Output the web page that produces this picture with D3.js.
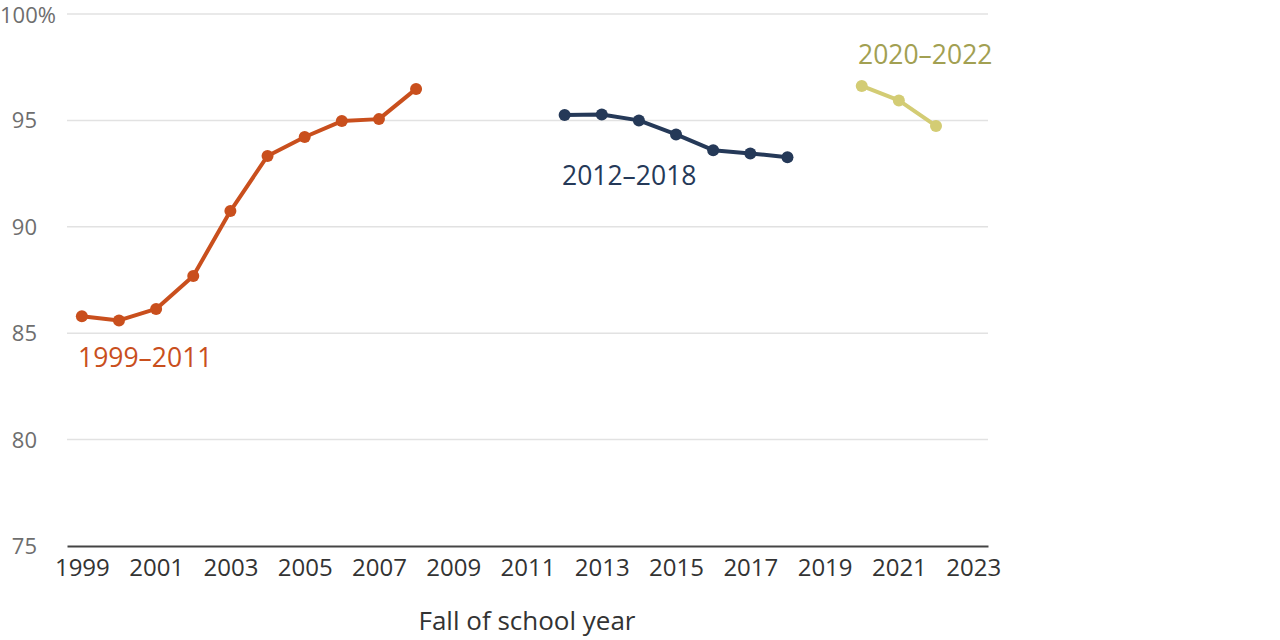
<!DOCTYPE html>
<html>
<head>
<meta charset="utf-8">
<script src="https://cdn.jsdelivr.net/npm/d3@7"></script>
<style>
  body { margin: 0; background: #fff; }
  text { font-family: "Open Sans", sans-serif; }
</style>
</head>
<body>
<svg id="chart" width="1280" height="640"></svg>
<script>
// data
const years1 = [1999, 2000, 2001, 2002, 2003, 2004, 2005, 2006, 2007, 2008];
const values1 = [85.8, 85.6, 86.14, 87.69, 90.74, 93.33, 94.22, 94.97, 95.06, 96.48];
const years2 = [2012, 2013, 2014, 2015, 2016, 2017, 2018];
const values2 = [95.25, 95.28, 95.0, 94.34, 93.6, 93.45, 93.27];
const years3 = [2020, 2021, 2022];
const values3 = [96.62, 95.94, 94.74];
const xTicks = [1999, 2001, 2003, 2005, 2007, 2009, 2011, 2013, 2015, 2017, 2019, 2021, 2023];
const yTicks = [75, 80, 85, 90, 95, 100];

const series = [
  { name: "1999–2011", years: years1, values: values1, color: "#c94f1d", labelColor: "#c94f1d", lx: 78, ly: 367 },
  { name: "2012–2018", years: years2, values: values2, color: "#253958", labelColor: "#253958", lx: 562, ly: 185 },
  { name: "2020–2022", years: years3, values: values3, color: "#d3cc74", labelColor: "#a2a052", lx: 858, ly: 64 }
];

const svg = d3.select("#chart");
const plotLeft = 67, plotRight = 988, plotTop = 14, plotBottom = 546;

const x = d3.scaleLinear().domain([1999 - 0.4, 2023 + 0.4]).range([plotLeft, plotRight]);
const y = d3.scaleLinear().domain([75, 100]).range([plotBottom, plotTop]);

// gridlines
svg.append("g")
  .selectAll("line")
  .data(yTicks.filter(d => d > 75))
  .join("line")
  .attr("x1", plotLeft).attr("x2", plotRight)
  .attr("y1", d => y(d)).attr("y2", d => y(d))
  .attr("stroke", "#e2e2e2").attr("stroke-width", 1.5);

// y labels
svg.append("g")
  .selectAll("text")
  .data(yTicks)
  .join("text")
  .attr("x", 37)
  .attr("y", d => y(d))
  .attr("dy", d => d === 100 ? "0.42em" : "0.36em")
  .attr("fill", "#6e6e6e")
  .attr("font-size", 22)
  .attr("text-anchor", d => d === 100 ? "start" : "end")
  .attr("dx", d => d === 100 ? -37 : 0)
  .text(d => d === 100 ? "100%" : d);

// x axis
const xAxis = d3.axisBottom(x).tickValues(xTicks).tickSize(0).tickPadding(13).tickFormat(d3.format("d"));
const gx = svg.append("g").attr("transform", `translate(0,${plotBottom})`).call(xAxis);
gx.select(".domain").attr("stroke", "#444").attr("stroke-width", 2);
gx.selectAll("text").attr("font-size", 24).attr("fill", "#333").attr("font-family", "Open Sans, sans-serif");

svg.append("text")
  .attr("x", 527)
  .attr("y", 630)
  .attr("text-anchor", "middle")
  .attr("font-size", 26)
  .attr("fill", "#333")
  .text("Fall of school year");

const line = d3.line().x(d => x(d[0])).y(d => y(d[1]));

series.forEach(s => {
  const pts = s.years.map((yr, i) => [yr, s.values[i]]);
  svg.append("path")
    .datum(pts)
    .attr("d", line)
    .attr("fill", "none")
    .attr("stroke", s.color)
    .attr("stroke-width", 4)
    .attr("stroke-linejoin", "round");
  svg.append("g")
    .selectAll("circle")
    .data(pts)
    .join("circle")
    .attr("cx", d => x(d[0]))
    .attr("cy", d => y(d[1]))
    .attr("r", 6)
    .attr("fill", s.color);
  svg.append("text")
    .attr("x", s.lx)
    .attr("y", s.ly)
    .attr("font-size", 26.5)
    .attr("fill", s.labelColor)
    .text(s.name);
});
</script>
</body>
</html>
